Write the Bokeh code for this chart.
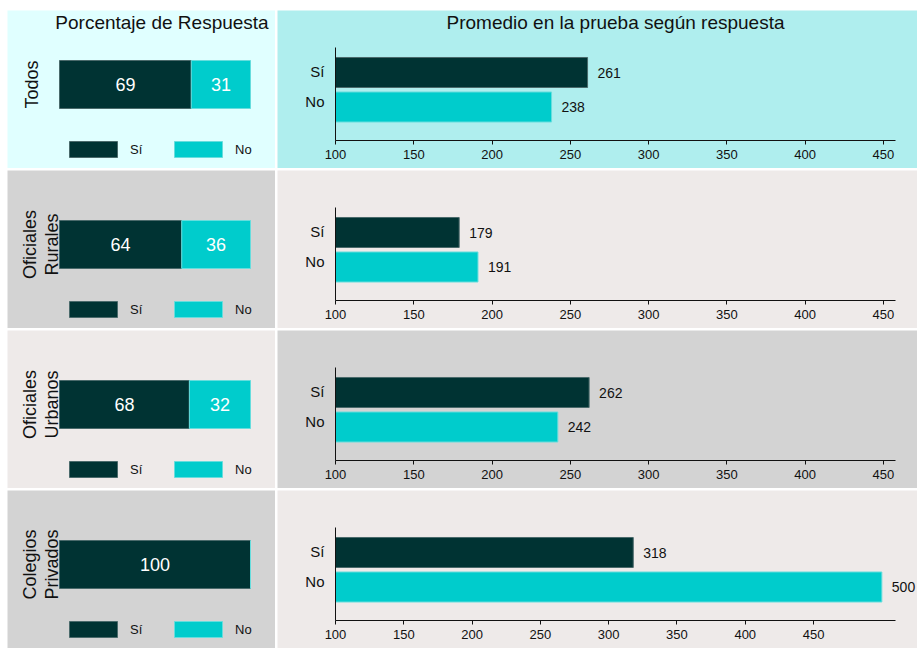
import math
from bokeh.plotting import figure
from bokeh.models import (Range1d, ColumnDataSource, Label, LabelSet, Legend,
                          LegendItem, FixedTicker)
from bokeh.layouts import column, row
from bokeh.embed import file_html
from bokeh.resources import INLINE
from bokeh.core.properties import value

# ---------------- data ----------------
groups = ["Todos", "Oficiales\nRurales", "Oficiales\nUrbanos", "Colegios\nPrivados"]
answers = ["Sí", "No"]
pct_si = [69, 64, 68, 100]
pct_no = [31, 36, 32, 0]
score_si = [261, 179, 262, 318]
score_no = [238, 191, 242, 500]
score_ticks = [100, 150, 200, 250, 300, 350, 400, 450]
score_axis_max = [457.7, 457.7, 457.7, 510]
title_left = "Porcentaje de Respuesta"
title_right = "Promedio en la prueba según respuesta"

# ---------------- style ----------------
FONT = "Liberation Sans"
DARK, DARK_EDGE = "#003333", "#4A6A6B"
CYAN, CYAN_EDGE = "#00CCCC", "#66DDDD"
left_bg = ["#E0FFFF", "#D3D3D3", "#EEEAE9", "#D3D3D3"]
right_bg = ["#AFEEEE", "#EEEAE9", "#D3D3D3", "#EEEAE9"]
TXT = "#111111"

LW, RW, H = 268, 640, 158


def base_fig(w, bg, xr, yr, **kw):
    return figure(width=w, height=H, x_range=xr, y_range=yr,
                  toolbar_location=None, output_backend="svg",
                  min_border=0, min_border_left=0, min_border_right=0,
                  min_border_top=0, min_border_bottom=0,
                  outline_line_color=None,
                  background_fill_color=bg, border_fill_color=bg, **kw)


def left_panel(i):
    bg = left_bg[i]
    bl, br = 52, 243            # pixel extent of the 0-100 % bar
    per = 100.0 / (br - bl)
    cy = 74                     # bar centre (pixels from panel top)
    p = base_fig(LW, bg, Range1d(-bl * per, 100 + (LW - br) * per),
                 Range1d(cy - H, cy), x_axis_type=None, y_axis_type=None)
    src_si = ColumnDataSource(dict(y=[0], l=[0], r=[pct_si[i]]))
    src_no = ColumnDataSource(dict(y=[0], l=[pct_si[i]], r=[pct_si[i] + pct_no[i]]))
    r_si = p.hbar(y="y", left="l", right="r", height=48, source=src_si,
                  fill_color=DARK, line_color=DARK_EDGE, line_width=1)
    r_no = p.hbar(y="y", left="l", right="r", height=48, source=src_no,
                  fill_color=CYAN, line_color=CYAN_EDGE, line_width=1)

    xs, ts = [], []
    if pct_si[i] > 0:
        xs.append(pct_si[i] / 2.0); ts.append(str(pct_si[i]))
    if pct_no[i] > 0:
        xs.append(pct_si[i] + pct_no[i] / 2.0); ts.append(str(pct_no[i]))
    p.text(x=xs, y=[0] * len(xs), text=ts, text_color="white",
           text_font=value(FONT), text_font_size="18px",
           text_align="center", text_baseline="middle")

    nlines = groups[i].count("\n") + 1
    cx = 24 + 9 * (nlines - 1)
    p.add_layout(Label(x=(cx - bl) * per, y=0, text=groups[i], angle=math.pi / 2,
                       text_align="center", text_baseline="middle",
                       text_font=FONT, text_font_size="18px", text_color=TXT,
                       text_line_height=1.1))
    if i == 0:
        p.add_layout(Label(x=(154.5 - bl) * per, y=cy - 12, text=title_left,
                           text_align="center", text_baseline="middle",
                           text_font=FONT, text_font_size="19px", text_color=TXT))

    leg = Legend(items=[LegendItem(label=answers[0], renderers=[r_si]),
                        LegendItem(label=answers[1], renderers=[r_no])],
                 orientation="horizontal", location=(56, 9),
                 glyph_width=60, glyph_height=20, label_height=20,
                 label_width=20, label_standoff=7, spacing=18,
                 padding=0, margin=0, border_line_color=None,
                 background_fill_alpha=0,
                 label_text_font=FONT, label_text_font_size="13px",
                 label_text_color=TXT)
    p.add_layout(leg, "center")
    return p


def right_panel(i):
    bg = right_bg[i]
    bl, br = 58, 618            # pixel extent of the drawn x axis
    ay_top, ay_bot = 37, 130    # pixel extent of the drawn y axis
    slot = 34.5                 # pixels per category slot
    cy_si = 62                  # pixel centre of the "Sí" bar (slot 1)
    amax = score_axis_max[i]
    upp = (amax - 100) / (br - bl)
    y_hi = 1 + cy_si / slot
    y_lo = 1 - (H - cy_si) / slot
    ax_hi = 1 - (ay_top - cy_si) / slot
    ax_lo = 1 - (ay_bot - cy_si) / slot
    p = base_fig(RW, bg, Range1d(100 - bl * upp, 100 + (RW - bl) * upp),
                 Range1d(y_lo, y_hi))
    p.grid.visible = False
    ys = [1, 0]
    src = ColumnDataSource(dict(y=ys, v=[score_si[i], score_no[i]],
                                c=[DARK, CYAN], e=[DARK_EDGE, CYAN_EDGE],
                                t=[str(score_si[i]), str(score_no[i])]))
    p.hbar(y="y", left=100, right="v", height=0.87, source=src,
           fill_color="c", line_color="e", line_width=1)
    p.add_layout(LabelSet(x="v", y="y", text="t", source=src, x_offset=10,
                          text_align="left", text_baseline="middle",
                          text_font=value(FONT), text_font_size="14px",
                          text_color=TXT))

    xa = p.xaxis[0]
    xa.fixed_location = ax_lo
    xa.bounds = (100, amax)
    xa.ticker = FixedTicker(ticks=score_ticks)
    xa.axis_line_color = TXT
    xa.major_tick_line_color = TXT
    xa.major_tick_out = 4
    xa.major_tick_in = 0
    xa.minor_tick_line_color = None
    xa.major_label_standoff = 5
    xa.major_label_text_font = FONT
    xa.major_label_text_font_size = "13px"
    xa.major_label_text_color = TXT

    ya = p.yaxis[0]
    ya.fixed_location = 100
    ya.bounds = (ax_lo, ax_hi)
    ya.ticker = FixedTicker(ticks=[1.03, 0.16])
    ya.major_label_overrides = {1.03: answers[0], 0.16: answers[1]}
    ya.axis_line_color = TXT
    ya.major_tick_line_color = None
    ya.minor_tick_line_color = None
    ya.major_label_standoff = 5
    ya.major_label_text_font = FONT
    ya.major_label_text_font_size = "15px"
    ya.major_label_text_color = TXT

    if i == 0:
        p.add_layout(Label(x=(100 + amax) / 2.0, y=1 - (12 - cy_si) / slot,
                           text=title_right, text_align="center",
                           text_baseline="middle", text_font=FONT,
                           text_font_size="19px", text_color=TXT))
    return p


rows = [row(left_panel(i), right_panel(i), spacing=2) for i in range(4)]
layout = column(*rows, spacing=2, margin=(10, 0, 0, 7))

open("out.html", "w").write(file_html(layout, INLINE))
